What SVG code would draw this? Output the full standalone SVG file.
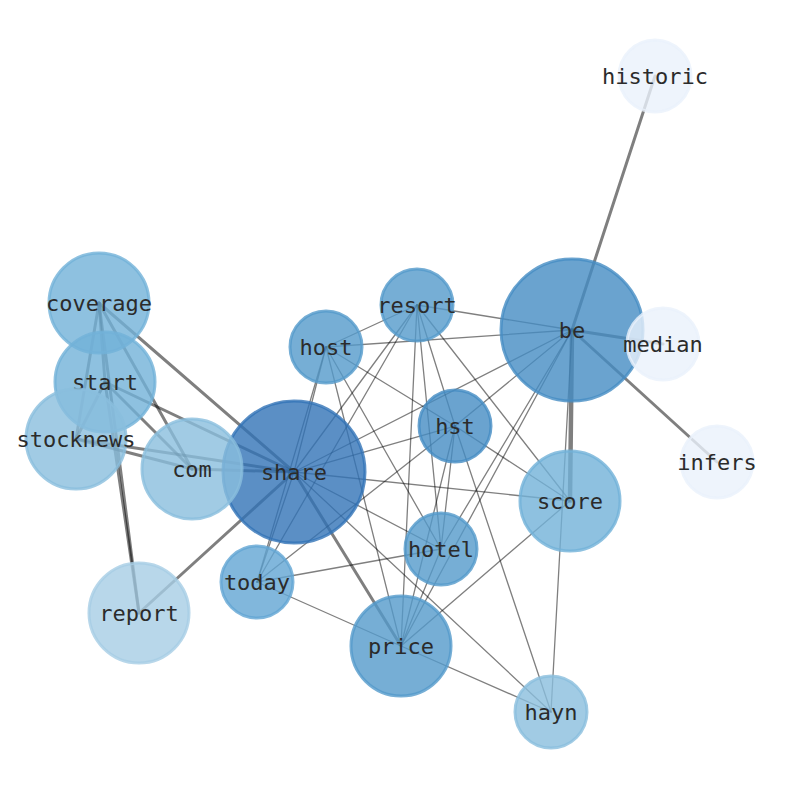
<svg xmlns="http://www.w3.org/2000/svg" width="794" height="790" viewBox="0 0 794 790">
<style>
.e{stroke:#000;stroke-opacity:0.5;fill:none;stroke-linecap:round}
.t{stroke-width:1.3}
.k{stroke-width:3}
.n circle{fill-opacity:0.8;stroke-opacity:0.8;stroke-width:3}
.n text{font-family:"DejaVu Sans Mono","Liberation Mono",monospace;font-size:22px;fill:#2b2b2b;text-anchor:middle;dominant-baseline:central}
.c1{fill:#3273b7;stroke:#3273b7}
.c2{fill:#458cc3;stroke:#458cc3}
.c3{fill:#549acb;stroke:#549acb}
.c3b{fill:#62a5d3;stroke:#62a5d3}
.c4{fill:#72b2d8;stroke:#72b2d8}
.c5{fill:#8abedd;stroke:#8abedd}
.c6{fill:#a6cde5;stroke:#a6cde5}
.c7{fill:#eaf1fb;stroke:#eaf1fb}
</style>
<rect width="794" height="790" fill="#fff"/>
<g id="edges">
<line class="e k" x1="572" y1="330" x2="655" y2="76"/>
<line class="e k" x1="572" y1="330" x2="663" y2="344"/>
<line class="e k" x1="572" y1="330" x2="717" y2="462"/>
<line class="e" stroke-width="4.5" x1="572" y1="330" x2="570" y2="501"/>
<line class="e k" x1="99" y1="303" x2="294" y2="472"/>
<line class="e k" x1="99" y1="303" x2="105" y2="382"/>
<line class="e k" x1="99" y1="303" x2="76" y2="439"/>
<line class="e k" x1="99" y1="303" x2="192" y2="469"/>
<line class="e k" x1="99" y1="303" x2="139" y2="613"/>
<line class="e k" x1="105" y1="382" x2="76" y2="439"/>
<line class="e k" x1="105" y1="382" x2="192" y2="469"/>
<line class="e k" x1="105" y1="382" x2="294" y2="472"/>
<line class="e k" x1="105" y1="382" x2="139" y2="613"/>
<line class="e k" x1="76" y1="439" x2="192" y2="469"/>
<line class="e k" x1="76" y1="439" x2="294" y2="472"/>
<line class="e k" x1="192" y1="469" x2="294" y2="472"/>
<line class="e k" x1="294" y1="472" x2="139" y2="613"/>
<line class="e k" x1="294" y1="472" x2="401" y2="646"/>
<line class="e t" x1="417" y1="305" x2="326" y2="347"/>
<line class="e t" x1="417" y1="305" x2="572" y2="330"/>
<line class="e t" x1="417" y1="305" x2="294" y2="472"/>
<line class="e t" x1="417" y1="305" x2="257" y2="582"/>
<line class="e t" x1="417" y1="305" x2="455" y2="426"/>
<line class="e t" x1="417" y1="305" x2="441" y2="549"/>
<line class="e t" x1="417" y1="305" x2="401" y2="646"/>
<line class="e t" x1="417" y1="305" x2="570" y2="501"/>
<line class="e t" x1="326" y1="347" x2="572" y2="330"/>
<line class="e t" x1="326" y1="347" x2="294" y2="472"/>
<line class="e t" x1="326" y1="347" x2="257" y2="582"/>
<line class="e t" x1="326" y1="347" x2="455" y2="426"/>
<line class="e t" x1="326" y1="347" x2="441" y2="549"/>
<line class="e t" x1="326" y1="347" x2="401" y2="646"/>
<line class="e t" x1="455" y1="426" x2="294" y2="472"/>
<line class="e t" x1="455" y1="426" x2="572" y2="330"/>
<line class="e t" x1="455" y1="426" x2="441" y2="549"/>
<line class="e t" x1="455" y1="426" x2="401" y2="646"/>
<line class="e t" x1="455" y1="426" x2="570" y2="501"/>
<line class="e t" x1="455" y1="426" x2="551" y2="712"/>
<line class="e t" x1="455" y1="426" x2="257" y2="582"/>
<line class="e t" x1="572" y1="330" x2="294" y2="472"/>
<line class="e t" x1="572" y1="330" x2="441" y2="549"/>
<line class="e t" x1="572" y1="330" x2="401" y2="646"/>
<line class="e t" x1="572" y1="330" x2="551" y2="712"/>
<line class="e t" x1="294" y1="472" x2="570" y2="501"/>
<line class="e t" x1="294" y1="472" x2="441" y2="549"/>
<line class="e t" x1="294" y1="472" x2="551" y2="712"/>
<line class="e t" x1="294" y1="472" x2="257" y2="582"/>
<line class="e t" x1="257" y1="582" x2="441" y2="549"/>
<line class="e t" x1="257" y1="582" x2="401" y2="646"/>
<line class="e t" x1="401" y1="646" x2="570" y2="501"/>
<line class="e t" x1="401" y1="646" x2="551" y2="712"/>
<line class="e t" x1="441" y1="549" x2="401" y2="646"/>
</g>
<g id="historic" class="n"><circle class="c7" cx="655" cy="76" r="36"/><text x="655" y="76">historic</text></g>
<g id="be" class="n"><circle class="c2" cx="572" cy="330" r="71"/><text x="572" y="330">be</text></g>
<g id="median" class="n"><circle class="c7" cx="663" cy="344" r="36"/><text x="663" y="344">median</text></g>
<g id="infers" class="n"><circle class="c7" cx="717" cy="462" r="36"/><text x="717" y="462">infers</text></g>
<g id="resort" class="n"><circle class="c3" cx="417" cy="305" r="36"/><text x="417" y="305">resort</text></g>
<g id="host" class="n"><circle class="c3" cx="326" cy="347" r="36"/><text x="326" y="347">host</text></g>
<g id="hst" class="n"><circle class="c2" cx="455" cy="426" r="36"/><text x="455" y="426">hst</text></g>
<g id="share" class="n"><circle class="c1" cx="294" cy="472" r="71"/><text x="294" y="472">share</text></g>
<g id="coverage" class="n"><circle class="c4" cx="99" cy="303" r="50"/><text x="99" y="303">coverage</text></g>
<g id="start" class="n"><circle class="c4" cx="105" cy="382" r="50"/><text x="105" y="382">start</text></g>
<g id="stocknews" class="n"><circle class="c5" cx="76" cy="439" r="50"/><text x="76" y="439">stocknews</text></g>
<g id="com" class="n"><circle class="c5" cx="192" cy="469" r="50"/><text x="192" y="469">com</text></g>
<g id="score" class="n"><circle class="c4" cx="570" cy="501" r="50"/><text x="570" y="501">score</text></g>
<g id="hotel" class="n"><circle class="c3" cx="441" cy="549" r="36"/><text x="441" y="549">hotel</text></g>
<g id="today" class="n"><circle class="c3b" cx="257" cy="582" r="36"/><text x="257" y="582">today</text></g>
<g id="report" class="n"><circle class="c6" cx="139" cy="613" r="50"/><text x="139" y="613">report</text></g>
<g id="price" class="n"><circle class="c3" cx="401" cy="646" r="50"/><text x="401" y="646">price</text></g>
<g id="hayn" class="n"><circle class="c5" cx="551" cy="712" r="36"/><text x="551" y="712">hayn</text></g>
</svg>
